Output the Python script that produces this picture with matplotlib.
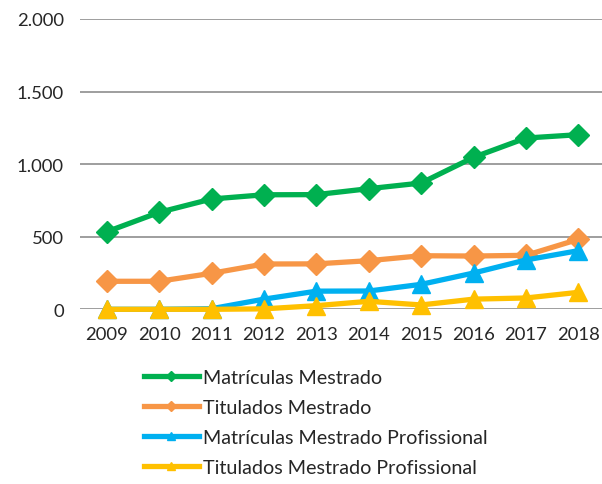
import matplotlib
matplotlib.use("Agg")
import matplotlib.pyplot as plt
from matplotlib.ticker import FuncFormatter

plt.rcParams['font.family'] = ['Lato', 'DejaVu Sans']
plt.rcParams['font.weight'] = 'normal'

years = ['2009', '2010', '2011', '2012', '2013', '2014', '2015', '2016', '2017', '2018']
matriculas_mestrado = [534, 668, 760, 789, 790, 831, 870, 1047, 1180, 1203]
titulados_mestrado = [193, 193, 248, 312, 313, 335, 369, 367, 372, 482]
matriculas_profissional = [0, 0, 4, 70, 125, 126, 172, 250, 340, 404]
titulados_profissional = [0, 0, 0, 3, 25, 55, 30, 70, 78, 117]

series = [
    ("Matrículas Mestrado", matriculas_mestrado, "#00B050", "D"),
    ("Titulados Mestrado", titulados_mestrado, "#F79646", "D"),
    ("Matrículas Mestrado Profissional", matriculas_profissional, "#00B0F0", "^"),
    ("Titulados Mestrado Profissional", titulados_profissional, "#FFC000", "^"),
]

fig = plt.figure(figsize=(6.02, 4.85), dpi=100)
ax = fig.add_axes([80.5 / 602, 1 - 310.3 / 485, 1 - 80.5 / 602, (310.3 - 20) / 485])

x = list(range(len(years)))
for label, vals, color, marker in series:
    ms = 11.5 if marker == "D" else 13
    ax.plot(x, vals, color=color, lw=3.8, marker=marker, markersize=ms,
            label=label, clip_on=False, zorder=3)

ax.set_ylim(0, 2000)
ax.set_yticks([0, 500, 1000, 1500, 2000])
ax.yaxis.set_major_formatter(FuncFormatter(lambda v, p: f"{int(v):,}".replace(",", ".")))
ax.set_xlim(-0.5, 9.45)
ax.set_xticks(x)
ax.set_xticklabels(years)
ax.grid(axis='y', color='#969696', lw=1.3)
ax.set_axisbelow(True)
for s in ax.spines.values():
    s.set_visible(False)
ax.tick_params(axis='both', length=0, labelsize=13.3, colors='#262626')
ax.tick_params(axis='y', pad=12)
ax.tick_params(axis='x', pad=12)

leg = fig.legend(loc='upper left', bbox_to_anchor=(126 / 602, 1 - 352 / 485),
                 frameon=False, fontsize=14.2, handlelength=2.8, handletextpad=0.22,
                 labelspacing=0.66, markerscale=0.4)
for t in leg.get_texts():
    t.set_color('#262626')
    t.set_fontweight('normal')

fig.savefig("out.png", dpi=100)
